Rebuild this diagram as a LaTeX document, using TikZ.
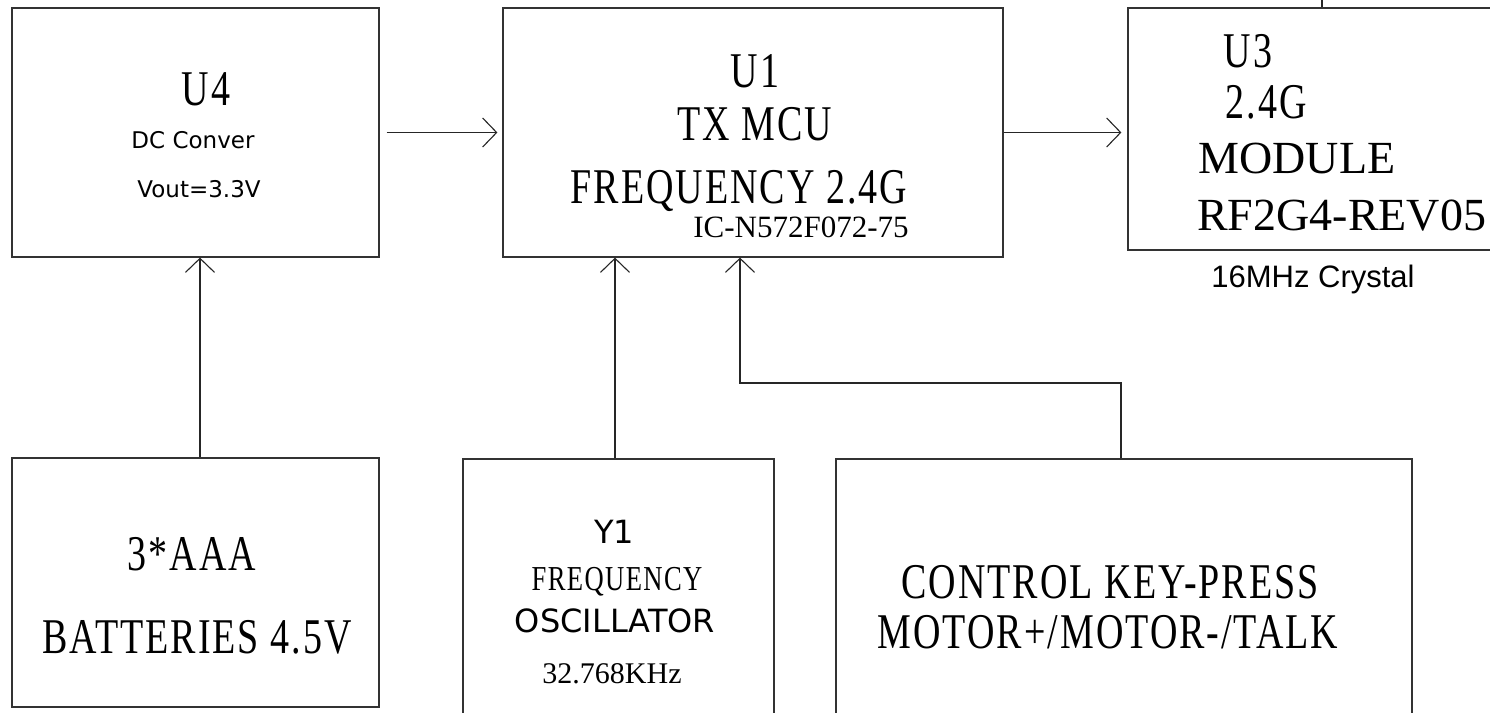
\documentclass[tikz,border=0pt]{standalone}
\usepackage{fontspec}
\usetikzlibrary{arrows.meta}
\newfontfamily\songfont{Liberation Serif}[FakeStretch=0.76,LetterSpace=4]
\newfontfamily\romfont{Liberation Serif}
\newfontfamily\verdfont{DejaVu Sans}
\newfontfamily\arifont{Liberation Sans}
\newcommand{\fsz}[1]{\fontsize{#1}{#1}\selectfont}
\begin{document}
\begin{tikzpicture}[x=1pt,y=-1pt,
  blk/.style={draw=black!80,line width=1.2pt,inner sep=0pt},
  lbl/.style={inner sep=0pt,anchor=base},
  arr/.style={draw=black!85,line width=1.1pt,-{Straight Barb[length=14pt,width=29pt,line width=1.1pt]}}]
\path[use as bounding box,clip] (0,0) rectangle (1490,712);
\fill[white] (0,0) rectangle (1490,712);
% blocks
\node[blk,minimum width=367pt,minimum height=249pt] (u4) at (195.5,132.5) {};
\node[blk,minimum width=500pt,minimum height=249pt] (u1) at (753,132.5) {};
\node[blk,minimum width=432pt,minimum height=242pt] (u3) at (1344,129) {};
\node[blk,minimum width=367pt,minimum height=249pt] (bat) at (195.5,582.5) {};
\node[blk,minimum width=311pt,minimum height=301pt] (osc) at (618.5,609.5) {};
\node[blk,minimum width=576pt,minimum height=301pt] (ctrl) at (1124,609.5) {};
% texts
\node[lbl,font=\songfont\fsz{50}] (u4a) at (206,105) {U4};
\node[lbl,font=\verdfont\fsz{23}] (u4b) at (193,148) {DC Conver};
\node[lbl,font=\verdfont\fsz{23}] (u4c) at (199,197) {Vout=3.3V};
\node[lbl,font=\songfont\fsz{50}] (u1a) at (755,87) {U1};
\node[lbl,font=\songfont\fsz{50}] (u1b) at (755,140) {TX MCU};
\node[lbl,font=\songfont\fsz{50}] (u1c) at (739,203) {FREQUENCY 2.4G};
\node[lbl,font=\romfont\fsz{31}] (u1d) at (801,237) {IC-N572F072-75};
\node[lbl,font=\songfont\fsz{50}] (u3a) at (1248,67) {U3};
\node[lbl,font=\songfont\fsz{50}] (u3b) at (1266,118) {2.4G};
\node[lbl,font=\romfont\fsz{46}] (u3c) at (1297,173) {MODULE};
\node[lbl,font=\romfont\fsz{46},anchor=base west] (u3d) at (1197,230) {RF2G4-REV05};
\node[lbl,font=\arifont\fsz{31}] (xtal) at (1313,287) {16MHz Crystal};
\node[lbl,font=\songfont\fsz{50}] (bata) at (192,570) {3*AAA};
\node[lbl,font=\songfont\fsz{50}] (batb) at (197,653) {BATTERIES 4.5V};
\node[lbl,font=\verdfont\fsz{32}] (osca) at (614,543) {Y1};
\node[lbl,font=\songfont\fsz{35}] (oscb) at (617,590) {FREQUENCY};
\node[lbl,font=\verdfont\fsz{32}] (oscc) at (615,632) {OSCILLATOR};
\node[lbl,font=\romfont\fsz{30}] (oscd) at (612,683) {32.768KHz};
\node[lbl,font=\songfont\fsz{50}] (ctrla) at (1110,598) {CONTROL KEY-PRESS};
\node[lbl,font=\songfont\fsz{50}] (ctrlb) at (1108,648) {MOTOR+/MOTOR-/TALK};
% connectors
\coordinate (bend) at (740,383);
\coordinate (u3up) at (1322,0);
\draw[arr,shorten <=7pt,shorten >=5pt] (u4.east) -- (u1.west);
\draw[arr,shorten >=6pt] (u1.east) -- (u1.east -| u3.west);
\draw[arr] ([xshift=4.5pt]bat.north) -- ([xshift=4.5pt]u4.south);
\draw[arr] ([xshift=-3.5pt]osc.north) -- ([xshift=-3.5pt]osc.north |- u1.south);
\draw[arr] ([xshift=-3pt]ctrl.north) |- (bend) -- (bend |- u1.south);
\draw[draw=black!85,line width=1.1pt] (u3.north -| u3up) -- (u3up);
\end{tikzpicture}
\end{document}
